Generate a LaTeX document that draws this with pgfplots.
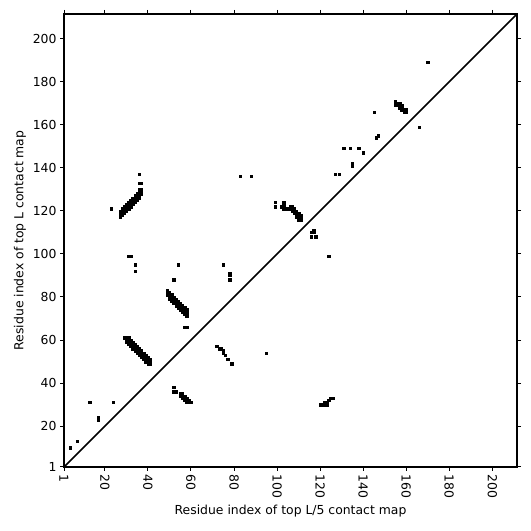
\documentclass[border=0pt]{standalone}
\usepackage{fontspec}
\setmainfont{DejaVu Sans}
\usepackage{pgfplots}
\pgfplotsset{compat=1.18}
\begin{document}
\begin{tikzpicture}[x=1bp,y=1bp]
\path[use as bounding box] (0,0) rectangle (531,531);
\begin{axis}[
  at={(64bp,64bp)}, anchor=south west,
  width=453bp, height=453bp, scale only axis,
  xmin=1, xmax=211.5, ymin=1, ymax=211.5,
  xtick={1,20,40,60,80,100,120,140,160,180,200},
  ytick={1,20,40,60,80,100,120,140,160,180,200},
  tick align=outside,
  axis line style={line width=1.6bp},
  major tick length=4bp,
  tick style={black, line width=1bp},
  /pgf/number format/assume math mode=true,
  font=\fontsize{12.4bp}{14bp}\selectfont,
  ticklabel style={font=\fontsize{12.4bp}{14bp}\selectfont},
  xticklabel style={rotate=-90, anchor=west},
  xlabel={Residue index of top L/5 contact map},
  ylabel={Residue index of top L contact map},
  clip=false,
]
\addplot[black, line width=1.5bp] coordinates {(1,1) (211.5,211.5)};
\addplot[only marks, mark=square*, mark size=1.2bp, mark options={draw=none, fill=black}] coordinates {
(4,10) (7,13) (13,31) (17,23) (17,24) (24,31)
(27,117) (27,118) (27,119) (27,120) (28,118) (28,119) (28,120) (28,121) (29,119) (29,120) (29,121) (29,122)
(30,120) (30,121) (30,122) (30,123) (31,121) (31,122) (31,123) (31,124) (32,122) (32,123) (32,124) (32,125)
(33,123) (33,124) (33,125) (33,126) (34,124) (34,125) (34,126) (34,127) (35,125) (35,126) (35,127) (35,128)
(36,126) (36,127) (36,128) (36,129) (37,128) (37,129) (37,130) (36,130)
(23,121) (36,133) (37,133) (36,137)
(31,99) (32,99) (34,95) (34,92)
(49,83) (49,82) (49,81) (50,82) (50,81) (50,80) (50,79) (51,81) (51,80) (51,79) (51,78) (52,80) (52,79) (52,78) (52,77)
(53,79) (53,78) (53,77) (53,76) (54,78) (54,77) (54,76) (54,75) (55,77) (55,76) (55,75) (55,74) (56,76) (56,75) (56,74) (56,73)
(57,75) (57,74) (57,73) (57,72) (58,74) (58,73) (58,72) (58,71)
(57,66) (58,66) (52,88) (54,95)
(29,61) (30,61) (30,60) (31,61) (31,60) (31,59) (30,59) (32,60) (32,59) (32,58) (31,58) (33,59) (33,58) (33,57) (32,57)
(34,58) (34,57) (34,56) (33,56) (35,57) (35,56) (35,55) (34,55) (36,56) (36,55) (36,54) (35,54) (37,55) (37,54) (37,53) (36,53)
(38,54) (38,53) (38,52) (37,52) (39,53) (39,52) (39,51) (38,51) (40,52) (40,51) (40,50) (39,50) (41,51) (41,50) (41,49) (40,49)
(52,38) (52,36) (53,36) (55,35) (55,34) (56,35) (56,34) (56,33) (57,34) (57,33) (57,32) (58,33) (58,32) (58,31) (59,32) (59,31) (60,31)
(72,57) (73,56) (74,56) (75,55) (75,54) (76,53) (77,51) (79,49) (95,54)
(120,30) (121,30) (122,30) (123,30) (122,31) (123,31) (124,32) (125,33) (126,33)
(75,95) (78,91) (78,90) (78,88) (83,136) (88,136) (99,124) (99,122) (102,122)
(103,124) (103,123) (103,122) (103,121)
(105,121) (106,122) (106,121) (107,122) (107,121) (107,120) (108,121) (108,120) (108,119) (109,120) (109,119) (109,118)
(110,119) (110,118) (110,117) (111,118) (111,117) (109,117) (110,116) (111,116)
(117,111) (116,110) (117,110) (116,108) (118,108) (124,99)
(127,137) (129,137) (135,141) (135,142) (131,149) (134,149) (138,149) (140,147)
(145,166) (146,154) (147,155) (166,159) (170,189)
(155,171) (155,170) (155,169) (156,170) (156,169) (157,170) (157,169) (157,168) (158,169) (158,168) (158,167)
(159,167) (159,166) (160,167) (160,166)
};
\end{axis}
\end{tikzpicture}
\end{document}
